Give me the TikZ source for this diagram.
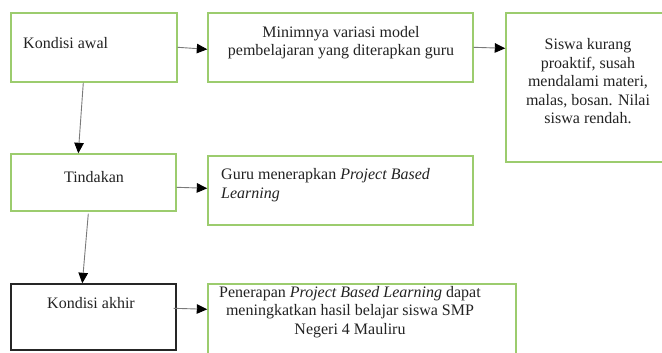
\documentclass[tikz,border=0pt]{standalone}
\usepackage{fontspec}
\setmainfont{Liberation Serif}
\usetikzlibrary{arrows.meta,calc}
\definecolor{boxgreen}{HTML}{9CCC6E}
\definecolor{linegrey}{HTML}{7A7A7A}
\definecolor{txt}{HTML}{222222}
\tikzset{
  gbox/.style={draw=boxgreen,line width=1.4pt,inner sep=0pt,rectangle},
  bbox/.style={draw=black!85,line width=1.4pt,inner sep=0pt,rectangle},
  lbl/.style={inner sep=0pt,text=txt,font=\fontsize{16}{18.5}\selectfont},
  arr/.style={draw=linegrey,line width=0.9pt,-{Triangle[length=10.5pt,width=9.5pt,color=black]}}
}
\begin{document}
\begin{tikzpicture}[x=1pt,y=-1pt]
\useasboundingbox (0,0) rectangle (662,353);
% boxes
\node[gbox,minimum width=166pt,minimum height=69pt] (ka) at (94,47.5) {};
\node[gbox,minimum width=265pt,minimum height=69pt] (mn) at (340.5,47.5) {};
\node[gbox,minimum width=174pt,minimum height=149pt] (sw) at (593,87.5) {};
\node[gbox,minimum width=165pt,minimum height=57pt] (td) at (93.5,182.5) {};
\node[gbox,minimum width=265pt,minimum height=69pt] (gr) at (340.5,190.5) {};
\node[bbox,minimum width=165pt,minimum height=66pt] (kk) at (93.5,317) {};
\node[gbox,minimum width=308pt,minimum height=96pt] (pn) at (362,332) {};
% texts
\node[lbl,anchor=west] (tka) at (23,43) {Kondisi awal};
\node[lbl,align=center] (tmn) at (341,42.5) {Minimnya variasi model\\pembelajaran yang diterapkan guru};
\node[lbl,align=center] (tsw) at (588,81.5) {Siswa kurang\\proaktif, susah\\mendalami materi,\\malas, bosan. Nilai\\siswa rendah.};
\node[lbl] (ttd) at (94,177) {Tindakan};
\node[lbl,align=left,anchor=west] (tgr) at (221,185) {Guru menerapkan \textit{Project Based}\\\textit{Learning}};
\node[lbl] (tkk) at (91,303) {Kondisi akhir};
\node[lbl,align=center] (tpn) at (350,312) {Penerapan \textit{Project Based Learning} dapat\\meningkatkan hasil belajar siswa SMP\\Negeri 4 Mauliru};
% arrows
\draw[arr] ($(ka.north east)+(0,35)$) -- ($(mn.north west)+(0,37)$);
\draw[arr] ($(mn.north east)+(0,35)$) -- ($(sw.north west)+(0,36)$);
\draw[arr] ($(ka.south west)+(73,0)$) -- ($(td.north west)+(68,0)$);
\draw[arr] ($(td.north east)+(0,34)$) -- ($(gr.north west)+(0,33)$);
\draw[arr] ($(td.south west)+(78,2)$) -- ($(kk.north west)+(72,0)$);
\draw[arr] ($(kk.north east)+(-3,25)$) -- ($(pn.north west)+(0,26)$);
\end{tikzpicture}
\end{document}
